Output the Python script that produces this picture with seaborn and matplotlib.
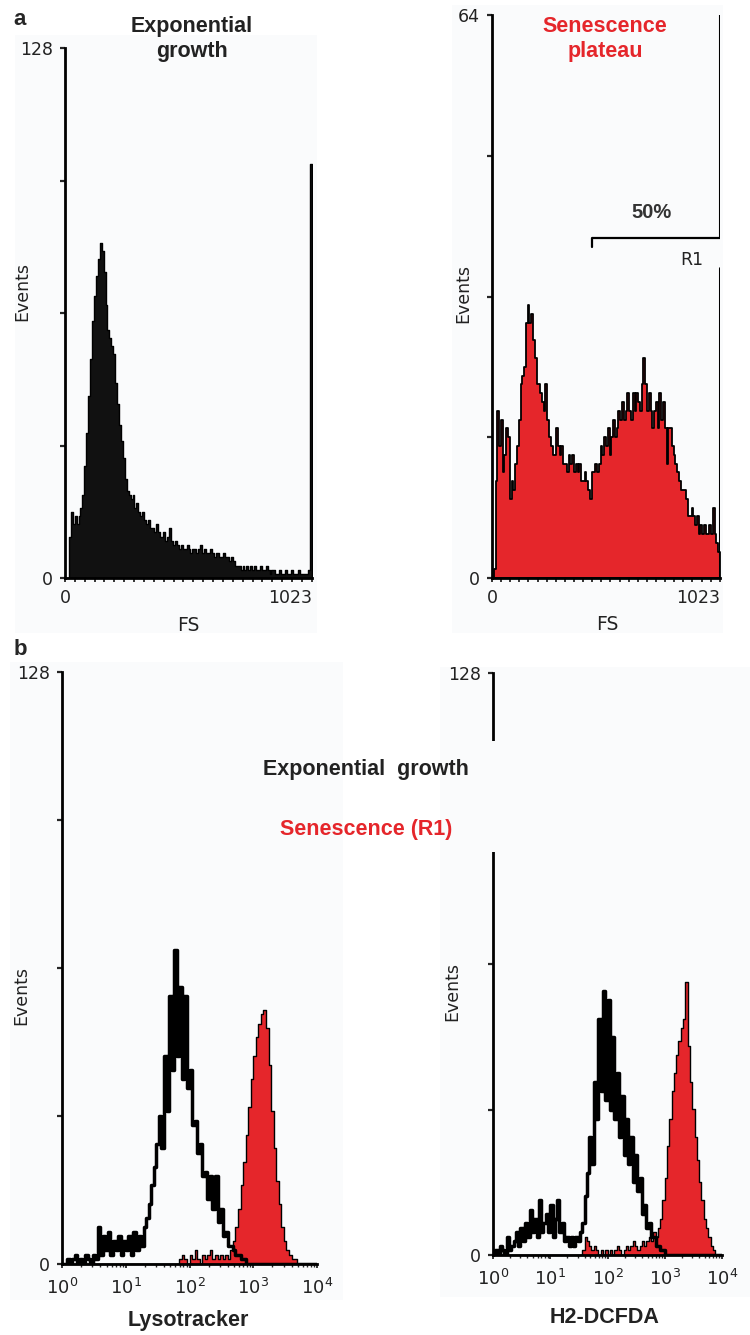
import numpy as np
import pandas as pd
import matplotlib
matplotlib.use("Agg")
import matplotlib.pyplot as plt
from matplotlib.patches import Rectangle
from matplotlib.ticker import LogLocator, NullFormatter
import seaborn as sns

W, H = 750, 1335
RED = "#e5262b"
BG = "#fafbfc"

# ---------------- data ----------------
# Panel a: forward scatter (FS) histograms, 128 channel groups of 8 channels (0-1023)
fs_edges = np.arange(0, 1025, 8)
fs_ticks = [0, 1023]
fs_ticklabels = ["0", "1023"]

exp_fs_counts = [
    0, 0, 10, 16, 13, 15, 13, 15, 17, 20,
    27, 35, 44, 53, 62, 68, 73, 77, 81, 79,
    74, 66, 60, 58, 56, 54, 47, 42, 37, 33,
    29, 24, 21, 20, 19, 20, 17, 18, 16, 15,
    16, 14, 13, 14, 12, 12, 11, 13, 11, 10,
    10, 11, 9, 10, 12, 9, 8, 9, 8, 7,
    8, 7, 7, 8, 7, 6, 7, 7, 6, 7,
    8, 6, 7, 6, 6, 7, 6, 5, 6, 6,
    5, 5, 6, 5, 5, 4, 5, 4, 3, 3,
    3, 2, 3, 2, 3, 2, 3, 2, 3, 2,
    2, 3, 2, 2, 3, 2, 1, 2, 2, 1,
    1, 2, 1, 1, 2, 1, 1, 2, 1, 1,
    1, 2, 1, 1, 1, 1, 2, 100,
]

sen_fs_counts = [
    0, 1, 11, 19, 15, 18, 12, 14, 17, 16,
    9, 11, 10, 13, 15, 18, 22, 23, 24, 29,
    31, 29, 30, 27, 25, 22, 22, 21, 20, 19,
    22, 18, 16, 15, 14, 14, 17, 15, 14, 15,
    13, 13, 12, 14, 13, 14, 12, 13, 12, 13,
    11, 11, 12, 11, 10, 9, 12, 12, 13, 12,
    13, 15, 14, 16, 15, 17, 14, 16, 18, 16,
    17, 19, 18, 20, 18, 19, 21, 19, 18, 21,
    19, 21, 20, 19, 22, 25, 22, 19, 21, 19,
    17, 19, 20, 17, 21, 18, 20, 17, 13, 17,
    17, 15, 14, 13, 12, 11, 10, 10, 10, 9,
    7, 7, 8, 7, 6, 7, 5, 6, 5, 6,
    5, 5, 6, 5, 8, 5, 4, 3,
]

# R1 gate
gate_start = 450
gate_end = 1023
gate_level = 38.6
gate_pct = "50%"

# Panel b: fluorescence histograms, 100 log bins over 4 decades
log_edges = np.linspace(0, 4, 101)
log_ticks = [1, 10, 100, 1000, 10000]
log_ticklabels = [r"$10^{0}$", r"$10^{1}$", r"$10^{2}$", r"$10^{3}$", r"$10^{4}$"]

lyso_exp = [
    0, 0, 1, 0, 1, 2, 0, 1, 0, 2,
    1, 0, 2, 1, 8, 2, 6, 3, 7, 2,
    5, 3, 6, 2, 5, 3, 6, 2, 7, 3,
    6, 4, 8, 10, 13, 17, 21, 26, 32, 25,
    45, 33, 58, 42, 68, 45, 60, 40, 58, 38,
    42, 30, 31, 24, 26, 19, 20, 14, 19, 12,
    19, 9, 12, 6, 7, 4, 4, 3, 2, 2,
    1, 1, 0, 0, 0, 0, 0, 0, 0, 0,
    0, 0, 0, 0, 0, 0, 0, 0, 0, 0,
    0, 0, 0, 0, 0, 0, 0, 0, 0, 0,
]
lyso_sen = [
    0, 0, 0, 0, 0, 0, 0, 0, 0, 0,
    0, 0, 0, 0, 0, 0, 0, 0, 0, 0,
    0, 0, 0, 0, 0, 0, 0, 0, 0, 0,
    0, 0, 0, 0, 0, 0, 0, 0, 0, 0,
    0, 0, 0, 0, 0, 0, 1, 2, 1, 0,
    2, 1, 3, 1, 0, 2, 1, 2, 3, 1,
    2, 1, 2, 1, 2, 1, 3, 5, 8, 12,
    17, 22, 28, 34, 40, 45, 49, 52, 54, 55,
    51, 43, 33, 25, 18, 13, 8, 5, 3, 2,
    1, 1, 0, 0, 0, 0, 0, 0, 0, 0,
]
dcf_exp = [
    0, 1, 0, 2, 1, 0, 4, 1, 2, 3,
    5, 2, 6, 3, 7, 4, 10, 5, 8, 4,
    12, 5, 7, 9, 5, 11, 4, 8, 12, 5,
    7, 3, 4, 2, 4, 2, 4, 3, 5, 7,
    13, 18, 26, 20, 38, 30, 52, 36, 58, 34,
    56, 32, 48, 30, 40, 26, 35, 22, 30, 20,
    26, 16, 22, 14, 17, 9, 11, 6, 7, 4,
    4, 2, 2, 1, 1, 0, 0, 0, 0, 0,
    0, 0, 0, 0, 0, 0, 0, 0, 0, 0,
    0, 0, 0, 0, 0, 0, 0, 0, 0, 0,
]
dcf_sen = [
    0, 0, 0, 0, 0, 0, 0, 0, 0, 0,
    0, 0, 0, 0, 0, 0, 0, 0, 0, 0,
    0, 0, 0, 0, 0, 0, 0, 0, 0, 0,
    0, 0, 0, 0, 0, 0, 0, 0, 0, 1,
    4, 3, 2, 1, 2, 1, 0, 1, 0, 1,
    0, 1, 0, 1, 2, 1, 0, 1, 2, 1,
    2, 3, 2, 1, 2, 3, 2, 3, 4, 3,
    5, 4, 6, 8, 12, 17, 24, 30, 36, 40,
    44, 47, 50, 52, 60, 46, 38, 32, 26, 21,
    16, 12, 8, 6, 4, 2, 1, 0, 0, 0,
]

# ---------------- style ----------------
sns.set_style("white")
plt.rcParams["font.family"] = ["Liberation Sans", "DejaVu Sans"]
plt.rcParams["mathtext.fontset"] = "dejavusans"

fig = plt.figure(figsize=(W / 100, H / 100), dpi=100)
fig.patch.set_facecolor("white")


def frac(x, y):
    return x / W, 1 - y / H


def px_rect(x0, y0, x1, y1, color, z):
    r = Rectangle((x0 / W, 1 - y1 / H), (x1 - x0) / W, (y1 - y0) / H,
                  transform=fig.transFigure, facecolor=color, edgecolor="none", zorder=z)
    fig.patches.append(r)


def px_axes(x0, y0, x1, y1):
    ax = fig.add_axes([x0 / W, 1 - y1 / H, (x1 - x0) / W, (y1 - y0) / H])
    ax.set_facecolor("none")
    return ax


# panel backgrounds
px_rect(15, 35, 317, 633, BG, -1)
px_rect(452, 5, 723, 633, BG, -1)
px_rect(10, 662, 343, 1300, BG, -1)
px_rect(440, 667, 750, 1297, BG, -1)


def style_axes(ax, ymax, ystep, ylab_xy, xlabel, xlab_xy, xlab_kw):
    for s in ["top", "right"]:
        ax.spines[s].set_visible(False)
    for s in ["left", "bottom"]:
        ax.spines[s].set_linewidth(2.0)
        ax.spines[s].set_color("black")
    yt = list(range(0, ymax + 1, ystep))
    ax.set_ylim(0, ymax)
    ax.set_yticks(yt)
    ax.set_yticklabels(["0"] + [""] * (len(yt) - 2) + [str(ymax)])
    ax.tick_params(axis="y", direction="out", length=3.5, width=1.6, pad=5,
                   labelsize=12.5, labelfontfamily="DejaVu Sans", left=True,
                   labelcolor="#222222")
    ax.set_ylabel("Events", fontsize=12.5, family="DejaVu Sans", color="#222222")
    ax.yaxis.set_label_coords(*ylab_xy)
    ax.yaxis.label.set_va("center")
    ax.set_xlabel(xlabel, **xlab_kw)
    ax.xaxis.set_label_coords(*xlab_xy)
    ax.xaxis.label.set_va("center")


def fs_axis(ax):
    ax.set_xlim(0, 1024)
    ax.set_xticks(fs_ticks)
    labs = ax.set_xticklabels(fs_ticklabels)
    labs[1].set_ha("right")
    ax.set_xticks(np.linspace(0, 1023, 26), minor=True)
    ax.tick_params(axis="x", which="both", direction="out", length=3, width=1.3,
                   bottom=True, labelsize=12.5, labelfontfamily="DejaVu Sans", pad=5,
                   labelcolor="#222222")


def log_axis(ax):
    ax.set_xlim(1, 1e4)
    ax.set_xticks(log_ticks)
    ax.set_xticklabels(log_ticklabels)
    ax.xaxis.set_minor_locator(LogLocator(base=10, subs=np.arange(2, 10), numticks=20))
    ax.xaxis.set_minor_formatter(NullFormatter())
    ax.tick_params(axis="x", which="major", direction="out", length=3, width=1.3,
                   bottom=True, labelsize=13, pad=7, labelcolor="#222222")
    ax.tick_params(axis="x", which="minor", direction="out", length=2, width=1.0, bottom=True)


def fs_hist(ax, counts, face, lw):
    centers = (fs_edges[:-1] + fs_edges[1:]) / 2
    df = pd.DataFrame({"FS": centers, "count": counts})
    sns.histplot(data=df, x="FS", weights="count", bins=list(fs_edges), element="step",
                 fill=True, color=face, edgecolor="black", linewidth=lw, alpha=1, ax=ax)


def log_hist(ax, counts, filled):
    centers = 10 ** ((log_edges[:-1] + log_edges[1:]) / 2)
    df = pd.DataFrame({"I": centers, "count": counts})
    if filled:
        sns.histplot(data=df, x="I", weights="count", bins=list(log_edges), log_scale=True,
                     element="step", fill=True, color=RED, edgecolor="black",
                     linewidth=1.0, alpha=1, ax=ax)
    else:
        sns.histplot(data=df, x="I", weights="count", bins=list(log_edges), log_scale=True,
                     element="step", fill=False, color="black", linewidth=2.5, ax=ax)


bold_big = dict(fontsize=15.5, fontweight="bold", family="Liberation Sans", color="#222222")
fs_lab = dict(fontsize=13.5, family="DejaVu Sans", color="#222222")

# ---- a, left ----
ax1 = px_axes(65, 48, 312, 578)
fs_hist(ax1, exp_fs_counts, "#111111", 1.0)
fs_axis(ax1)
style_axes(ax1, 128, 32, (-0.174, 0.54), "FS", (0.498, -0.089), fs_lab)

# ---- a, right ----
ax2 = px_axes(492, 15, 720, 578)
fs_hist(ax2, sen_fs_counts, RED, 1.3)
fs_axis(ax2)
style_axes(ax2, 64, 16, (-0.127, 0.506), "FS", (0.504, -0.083), fs_lab)
ax2.plot([gate_start, gate_end], [gate_level, gate_level], color="black", lw=1.6,
         solid_capstyle="butt")
ax2.plot([gate_start, gate_start], [gate_level - 1.0, gate_level], color="black", lw=1.6)
ax2.plot([gate_end, gate_end], [gate_level, 64], color="black", lw=1.5)
ax2.plot([gate_end, gate_end], [0, 35.2], color="black", lw=2.2)
ax2.text(718, 40.9, gate_pct, fontsize=14.5, fontweight="bold", ha="center",
         va="baseline", color="#333333")
ax2.text(897, 35.6, "R1", fontsize=12.5, family="DejaVu Sans", ha="center",
         va="baseline", color="#222222")

# ---- b, left ----
ax3 = px_axes(62, 672, 317, 1264)
log_hist(ax3, lyso_sen, True)
log_hist(ax3, lyso_exp, False)
log_axis(ax3)
style_axes(ax3, 128, 32, (-0.161, 0.454), "Lysotracker", (0.494, -0.095), bold_big)

# ---- b, right ----
ax4 = px_axes(493, 673, 722, 1255)
log_hist(ax4, dcf_sen, True)
log_hist(ax4, dcf_exp, False)
log_axis(ax4)
style_axes(ax4, 128, 32, (-0.179, 0.452), "H2-DCFDA", (0.489, -0.108), bold_big)

# gap in the right panel's axis behind the legend text
px_rect(480, 741, 507, 852, BG, 3)

# ---- figure texts ----
big = dict(fontsize=15.5, fontweight="bold", family="Liberation Sans")
fig.text(*frac(20, 25), "a", fontsize=16, fontweight="bold", ha="center", va="baseline")
fig.text(*frac(20, 655), "b", fontsize=16, fontweight="bold", ha="center", va="baseline")
fig.text(*frac(192, 32), "Exponential", ha="center", va="baseline", color="#222222", **big)
fig.text(*frac(192, 57), "growth", ha="center", va="baseline", color="#222222", **big)
fig.text(*frac(605, 32), "Senescence", ha="center", va="baseline", color=RED, **big)
fig.text(*frac(605, 57), "plateau", ha="center", va="baseline", color=RED, **big)
fig.text(*frac(366, 775), "Exponential  growth", ha="center", va="baseline",
         color="#222222", zorder=6, **big)
fig.text(*frac(366, 835), "Senescence (R1)", ha="center", va="baseline",
         color=RED, zorder=6, **big)

fig.savefig("out.png", dpi=100, facecolor="white")
